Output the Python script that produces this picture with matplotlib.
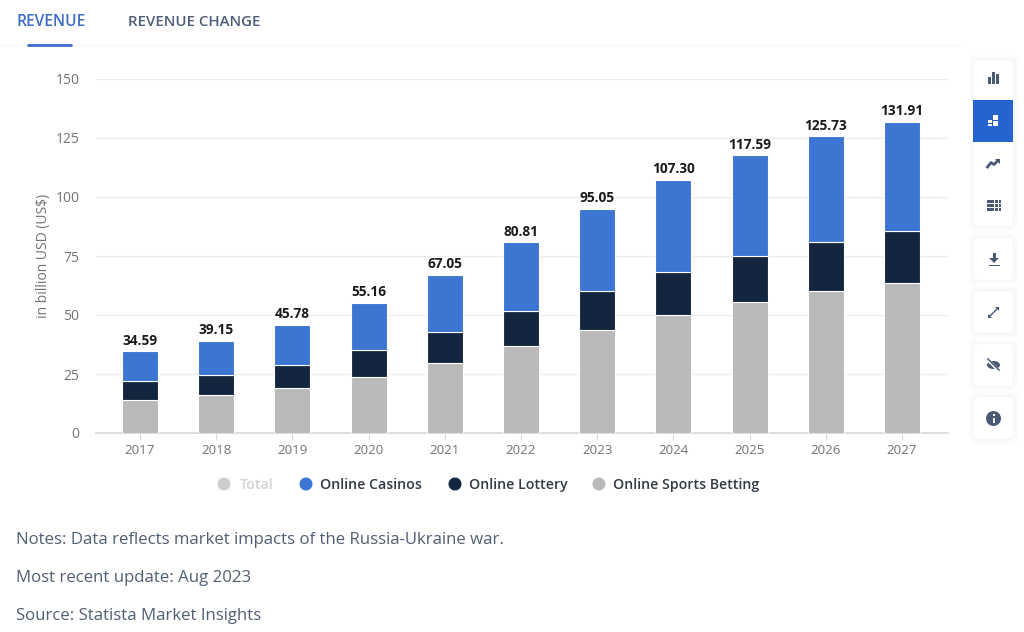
import matplotlib
matplotlib.use('Agg')
import matplotlib.pyplot as plt
import matplotlib.patches as patches
import numpy as np

years = ['2017', '2018', '2019', '2020', '2021', '2022', '2023', '2024', '2025', '2026', '2027']
totals = [34.59, 39.15, 45.78, 55.16, 67.05, 80.81, 95.05, 107.30, 117.59, 125.73, 131.91]
sports = [14.0, 16.2, 19.0, 23.7, 29.6, 36.9, 43.6, 50.2, 55.5, 60.2, 63.5]
lottery = [7.9, 8.4, 9.8, 11.3, 13.1, 14.8, 16.6, 18.0, 19.7, 20.8, 22.1]
casinos = [12.69, 14.55, 16.98, 20.16, 24.35, 29.11, 34.85, 39.1, 42.39, 44.73, 46.31]
y_ticks = [0, 25, 50, 75, 100, 125, 150]

BLUE = '#3c75d2'
NAVY = '#14263f'
GREY = '#b9b9b9'
TICK = '#6f7378'
SLATE = '#4e5d78'
ICON = '#4a5a75'

plt.rcParams['font.family'] = ['Open Sans', 'DejaVu Sans']

W, H = 1024, 632
fig = plt.figure(figsize=(W / 100, H / 100), dpi=100, facecolor='white')
ax = fig.add_axes([96 / W, 1 - 433 / H, (948 - 96) / W, (433 - 79) / H])

x = np.arange(len(years))
bottom2 = np.array(sports)
bottom3 = bottom2 + np.array(lottery)
bw = 0.475
ax.bar(x, sports, bw, color=GREY, edgecolor='white', linewidth=0.8, zorder=3)
ax.bar(x, lottery, bw, bottom=bottom2, color=NAVY, edgecolor='white', linewidth=0.8, zorder=3)
ax.bar(x, casinos, bw, bottom=bottom3, color=BLUE, edgecolor='white', linewidth=0.8, zorder=3)

for i, t in enumerate(totals):
    ax.annotate('%.2f' % t, (x[i], t), xytext=(0, 2.6), textcoords='offset points', ha='center', va='bottom',
                fontsize=9.8, fontweight='bold', color='#1a1a1a', zorder=4)

ax.set_xlim((96 - 140) / 76.2, (948 - 140) / 76.2)
ax.set_ylim(0, 150)
ax.set_xticks(x, years)
ax.set_yticks(y_ticks)
ax.grid(axis='y', color='#ececec', linewidth=1, zorder=0)
ax.set_axisbelow(True)
for s in ['top', 'right', 'left']:
    ax.spines[s].set_visible(False)
ax.spines['bottom'].set_color('#d5d8dc')
ax.spines['bottom'].set_linewidth(1.2)
ax.tick_params(axis='x', length=5, color='#d5d8dc', labelcolor=TICK, labelsize=9.6, pad=3)
ax.tick_params(axis='y', length=0, labelcolor=TICK, labelsize=10, pad=12)
ax.set_ylabel('in billion USD (US$)', fontsize=10, color=TICK, labelpad=3)

# everything outside the plot, in pixels
ov = fig.add_axes([0, 0, 1, 1], zorder=5)
ov.set_xlim(0, W)
ov.set_ylim(H, 0)
ov.axis('off')
ov.patch.set_alpha(0)

# tabs
ov.text(16, 22.5, 'REVENUE', color='#3d6cc4', fontsize=11.2, fontweight='semibold', va='center')
ov.text(128, 22.5, 'REVENUE CHANGE', color=SLATE, fontsize=10.8, fontweight='semibold', va='center')
ov.plot([28, 71], [45, 45], color='#3d6cc4', lw=2, solid_capstyle='round')
ov.plot([0, 960], [45, 45], color='#f6f7f8', lw=1, zorder=0)

# legend
legend_items = [('Total', '#cfcfcf', '#d4d4d4', 224, 240),
                ('Online Casinos', BLUE, '#333a44', 306, 320),
                ('Online Lottery', NAVY, '#333a44', 455, 469),
                ('Online Sports Betting', GREY, '#333a44', 599, 613)]
for name, col, tcol, cx, tx in legend_items:
    ov.add_patch(patches.Circle((cx, 484), 6.5, color=col, lw=0))
    ov.text(tx, 485, name, color=tcol, fontsize=10.2, fontweight='semibold', va='center')

# notes
notes = ['Notes: Data reflects market impacts of the Russia-Ukraine war.',
         'Most recent update: Aug 2023',
         'Source: Statista Market Insights']
for note, ny in zip(notes, [540, 578, 616]):
    ov.text(16, ny, note, color='#525f73', fontsize=12.05, va='center')


def card(x0, y0, x1, y1):
    for grow, col in [(5, '#fcfcfc'), (3, '#fafafb'), (1.5, '#f7f7f8')]:
        ov.add_patch(patches.FancyBboxPatch((x0 - grow, y0 - grow), x1 - x0 + 2 * grow, y1 - y0 + 2 * grow,
                                            boxstyle='round,pad=0,rounding_size=6', fc=col, ec='none'))
    ov.add_patch(patches.FancyBboxPatch((x0, y0), x1 - x0, y1 - y0,
                                        boxstyle='round,pad=0,rounding_size=5', fc='white', ec='none'))


def block(x0, y0, w, h, col=ICON):
    ov.add_patch(patches.Rectangle((x0, y0), w, h, fc=col, ec='none'))


card(974, 60, 1013, 226)
card(974, 238, 1013, 280)
card(974, 291, 1013, 333)
card(974, 344, 1013, 386)
card(974, 397, 1013, 439)
block(973, 100, 40, 42, '#2563cf')

# bar icon
block(987.5, 77, 3, 7)
block(991.5, 72, 3.5, 12)
block(996, 74, 3, 10)
# stacked icon
block(988, 120, 4, 2.5, 'white')
block(988, 123.5, 4, 2.5, 'white')
block(993, 115, 5, 5, 'white')
block(993, 121, 5, 5, 'white')
# trend icon
ov.plot([987.5, 991, 994, 998], [167, 162.5, 164.5, 160.5], color=ICON, lw=2)
ov.add_patch(patches.Polygon([[995, 159], [1000, 159], [1000, 164]], fc=ICON, ec='none'))
# table icon
for ty in [200, 204, 208]:
    block(987, ty, 7, 3)
    block(995, ty, 2.5, 3)
    block(998.5, ty, 2.5, 3)
# download icon
block(992.5, 253, 3, 5)
ov.add_patch(patches.Polygon([[989, 258], [999, 258], [994, 263]], fc=ICON, ec='none'))
block(988.5, 264.5, 11, 1.6)
# expand icon
ov.plot([990, 997], [316, 309], color=ICON, lw=1.0)
ov.add_patch(patches.Polygon([[995, 307], [999, 307], [999, 311]], fc=ICON, ec='none'))
ov.add_patch(patches.Polygon([[988, 314], [988, 318], [992, 318]], fc=ICON, ec='none'))
# hidden eye icon
ov.add_patch(patches.Ellipse((993.5, 365), 13, 8, fc=ICON, ec='none'))
ov.plot([988, 999], [360, 371], color='white', lw=2.2)
ov.plot([988, 999], [359, 370], color=ICON, lw=1.1)
# info icon
ov.add_patch(patches.Circle((993.5, 418.5), 7.5, fc=ICON, ec='none'))
block(992.5, 418, 2.2, 5, 'white')
block(992.5, 414, 2.2, 2.2, 'white')

fig.savefig('out.png', dpi=100)
